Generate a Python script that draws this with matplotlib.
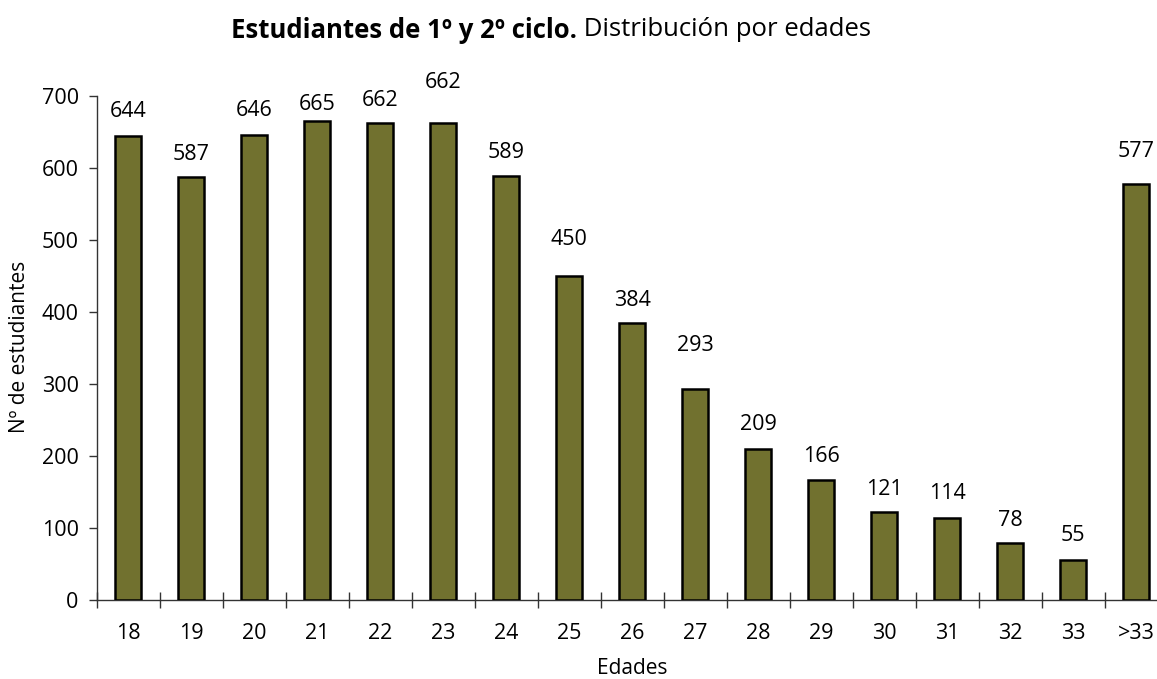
import matplotlib
matplotlib.use("Agg")
import matplotlib.pyplot as plt
import numpy as np

categories = ["18", "19", "20", "21", "22", "23", "24", "25", "26", "27", "28",
              "29", "30", "31", "32", "33", ">33"]
values = [644, 587, 646, 665, 662, 662, 589, 450, 384, 293, 209, 166, 121, 114, 78, 55, 577]
yticks = [0, 100, 200, 300, 400, 500, 600, 700]

# label gap above bar tops (pixels), as placed in the original chart
label_gap_px = [19.5, 17.5, 19, 10.7, 17.7, 35, 17.5, 30.7, 17, 37.5, 19.5, 18.5,
                17.5, 18.5, 17.5, 18.5, 27]

plt.rcParams['font.family'] = ['Open Sans', 'DejaVu Sans']

W, H = 1157, 679
fig = plt.figure(figsize=(W / 100, H / 100), dpi=100)
left_px, right_px, bottom_px, top_px = 96.7, 1167.7, 599.5, 96
ax = fig.add_axes([left_px / W, 1 - bottom_px / H, (right_px - left_px) / W, (bottom_px - top_px) / H])

FS = 15.5
x = np.arange(len(categories))
bars = ax.bar(x, values, width=0.41, color="#71712F", edgecolor="black", linewidth=1.8, zorder=3)
for xi, v, g in zip(x, values, label_gap_px):
    ax.annotate(str(v), (xi, v), xytext=(0, g * 0.72), textcoords="offset points",
                ha="center", va="baseline", fontsize=FS, color="black")

ax.set_xlim(-0.5, len(categories) - 0.5)
ax.set_ylim(0, 700)
ax.set_yticks(yticks)
ax.tick_params(axis="y", direction="out", length=6, width=1, color="#333333", labelsize=FS, pad=7)
ax.set_xticks(x)
ax.set_xticklabels(categories)
ax.tick_params(axis="x", which="major", length=0, labelsize=FS, pad=17)
ax.set_xticks(np.arange(len(categories)) - 0.5, minor=True)
ax.tick_params(axis="x", which="minor", direction="inout", length=12, width=1, color="#333333")

for s in ["top", "right"]:
    ax.spines[s].set_visible(False)
for s in ["left", "bottom"]:
    ax.spines[s].set_color("#333333")
    ax.spines[s].set_linewidth(1)

fig.text(20 / W, 1 - 347 / H, "Nº de estudiantes", fontsize=15, rotation=90,
         ha="center", va="center")
fig.text(632 / W, 1 - 668 / H, "Edades", fontsize=15, ha="center", va="center")

# Title: bold part + regular part
fig.canvas.draw()
r = fig.canvas.get_renderer()
t1 = fig.text(0, 1 - 30 / H, "Estudiantes de 1º y 2º ciclo.", fontsize=18.5, fontweight="bold",
              ha="left", va="center")
t2 = fig.text(0, 1 - 30 / H, " Distribución por edades", fontsize=18.5, ha="left", va="center")
w1 = t1.get_window_extent(r).width
w2 = t2.get_window_extent(r).width
start = 551 - (w1 + w2) / 2
t1.set_x(start / W)
t2.set_x((start + w1) / W)

fig.savefig("out.png", dpi=100)
